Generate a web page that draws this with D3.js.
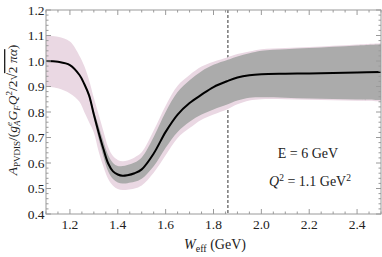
<!DOCTYPE html>
<html>
<head>
<meta charset="utf-8">
<script src="https://cdn.jsdelivr.net/npm/d3@7"></script>
<style>
  body { margin: 0; background: #fff; }
  text { font-family: "Liberation Serif", "DejaVu Serif", serif; fill: #222; }
</style>
</head>
<body>
<div id="vis"></div>
<script>
// W_eff grid (GeV) and the curves
var wEff    = [1.10, 1.15, 1.20, 1.24, 1.26, 1.28, 1.30, 1.32, 1.34, 1.36, 1.38, 1.40, 1.42, 1.44, 1.47, 1.50, 1.55, 1.60, 1.65, 1.70, 1.75, 1.80, 1.86, 1.90, 1.95, 2.00, 2.10, 2.20, 2.30, 2.40, 2.50];
var central = [1.000, 0.997, 0.984, 0.945, 0.910, 0.865, 0.790, 0.720, 0.655, 0.598, 0.567, 0.555, 0.550, 0.552, 0.560, 0.575, 0.637, 0.722, 0.790, 0.835, 0.868, 0.898, 0.922, 0.935, 0.944, 0.948, 0.950, 0.951, 0.953, 0.955, 0.957];
var grayLo  = [1.000, 0.997, 0.984, 0.945, 0.905, 0.855, 0.775, 0.695, 0.625, 0.567, 0.537, 0.524, 0.520, 0.521, 0.526, 0.538, 0.587, 0.660, 0.722, 0.762, 0.790, 0.810, 0.830, 0.845, 0.856, 0.858, 0.856, 0.853, 0.851, 0.849, 0.847];
var grayHi  = [1.000, 0.997, 0.984, 0.945, 0.915, 0.875, 0.805, 0.745, 0.685, 0.630, 0.600, 0.588, 0.588, 0.592, 0.602, 0.622, 0.702, 0.800, 0.878, 0.925, 0.960, 0.985, 1.005, 1.018, 1.030, 1.040, 1.046, 1.051, 1.056, 1.061, 1.066];
var pinkLo  = [0.900, 0.893, 0.873, 0.840, 0.800, 0.760, 0.720, 0.645, 0.585, 0.537, 0.511, 0.498, 0.494, 0.495, 0.500, 0.512, 0.562, 0.630, 0.698, 0.737, 0.770, 0.790, 0.812, 0.830, 0.845, 0.850, 0.850, 0.848, 0.846, 0.844, 0.842];
var pinkHi  = [1.100, 1.095, 1.076, 1.020, 0.980, 0.925, 0.855, 0.790, 0.725, 0.662, 0.627, 0.612, 0.607, 0.610, 0.622, 0.642, 0.727, 0.825, 0.903, 0.945, 0.978, 0.997, 1.015, 1.027, 1.037, 1.046, 1.051, 1.055, 1.060, 1.065, 1.070];

var xTicks = [1.2, 1.4, 1.6, 1.8, 2.0, 2.2, 2.4];
var yTicks = [0.4, 0.5, 0.6, 0.7, 0.8, 0.9, 1.0, 1.1, 1.2];
var threshold = 1.86;

var width = 382, height = 257;
var margin = {top: 10, right: 1, bottom: 43, left: 46};

var svg = d3.select("#vis").append("svg").attr("width", width).attr("height", height);

var x = d3.scaleLinear().domain([1.1, 2.5]).range([margin.left, width - margin.right]);
var y = d3.scaleLinear().domain([0.4, 1.2]).range([height - margin.bottom, margin.top]);

var rows = wEff.map(function (w, i) {
    return {w: w, c: central[i], gl: grayLo[i], gh: grayHi[i], pl: pinkLo[i], ph: pinkHi[i]};
});

svg.append("clipPath").attr("id", "plotClip").append("rect")
    .attr("x", x(1.1)).attr("y", y(1.2))
    .attr("width", x(2.5) - x(1.1)).attr("height", y(0.4) - y(1.2));

var plot = svg.append("g").attr("clip-path", "url(#plotClip)");

//dashed line sits under the bands
plot.append("line")
    .attr("x1", x(threshold)).attr("x2", x(threshold))
    .attr("y1", y(1.2)).attr("y2", y(0.4))
    .attr("stroke", "#808080").attr("stroke-width", 1.6)
    .attr("stroke-dasharray", "3,2");

var curve = d3.curveCatmullRom.alpha(0.5);

plot.append("path").datum(rows)
    .attr("fill", "#ead8e3")
    .attr("d", d3.area().curve(curve).x(d => x(d.w)).y0(d => y(d.pl)).y1(d => y(d.ph)));

plot.append("path").datum(rows)
    .attr("fill", "#ababab")
    .attr("d", d3.area().curve(curve).x(d => x(d.w)).y0(d => y(d.gl)).y1(d => y(d.gh)));

plot.append("path").datum(rows)
    .attr("fill", "none").attr("stroke", "#000").attr("stroke-width", 2)
    .attr("d", d3.line().curve(curve).x(d => x(d.w)).y(d => y(d.c)));

//frame with ticks on all sides
var frameColor = "#9a9a9a";
var x0 = x(1.1), x1 = x(2.5), y0 = y(0.4), y1 = y(1.2);
svg.append("rect")
    .attr("x", x0).attr("y", y1).attr("width", x1 - x0).attr("height", y0 - y1)
    .attr("fill", "none").attr("stroke", frameColor).attr("stroke-width", 1);

var xMinor = d3.range(1.1, 2.5001, 0.05);
var yMinor = d3.range(0.4, 1.2001, 0.02);

function isMajor(v, list) {
    return list.some(t => Math.abs(t - v) < 1e-6);
}

var ticks = svg.append("g").attr("stroke", frameColor).attr("stroke-width", 1);
xMinor.forEach(function (v) {
    var len = isMajor(v, xTicks) ? 5 : 2.5;
    ticks.append("line").attr("x1", x(v)).attr("x2", x(v)).attr("y1", y0).attr("y2", y0 - len);
    ticks.append("line").attr("x1", x(v)).attr("x2", x(v)).attr("y1", y1).attr("y2", y1 + len);
});
yMinor.forEach(function (v) {
    var len = isMajor(v, yTicks) ? 5 : 2.5;
    ticks.append("line").attr("x1", x0).attr("x2", x0 + len).attr("y1", y(v)).attr("y2", y(v));
    ticks.append("line").attr("x1", x1).attr("x2", x1 - len).attr("y1", y(v)).attr("y2", y(v));
});

//tick labels
svg.append("g").selectAll("text").data(xTicks).enter().append("text")
    .attr("x", d => x(d)).attr("y", y0 + 15)
    .attr("text-anchor", "middle").attr("font-size", 13.5)
    .text(d => d.toFixed(1));

svg.append("g").selectAll("text").data(yTicks).enter().append("text")
    .attr("x", x0 - 1.5).attr("y", d => y(d) + 4.5)
    .attr("text-anchor", "end").attr("font-size", 13.5)
    .text(d => d.toFixed(1));

//x axis title
var xt = svg.append("text").attr("x", 215).attr("y", 249)
    .attr("text-anchor", "middle").attr("font-size", 14);
xt.append("tspan").attr("font-style", "italic").text("W");
xt.append("tspan").attr("font-size", 10).attr("dy", 3).text("eff");
xt.append("tspan").attr("dy", -3).text(" (GeV)");

//y axis title
var yt = svg.append("text")
    .attr("transform", "translate(17,110) rotate(-90)")
    .attr("text-anchor", "middle").attr("font-size", 13.5);
yt.append("tspan").attr("font-style", "italic").text("A");
yt.append("tspan").attr("font-size", 9).attr("dy", 3).text("PVDIS");
yt.append("tspan").attr("dy", -3).text("/(");
yt.append("tspan").attr("font-style", "italic").text("g");
yt.append("tspan").attr("font-style", "italic").attr("font-size", 9).attr("dy", -5).text("e");
yt.append("tspan").attr("font-style", "italic").attr("font-size", 9).attr("dx", -4).attr("dy", 8).text("A");
yt.append("tspan").attr("font-style", "italic").attr("dy", -3).text("G");
yt.append("tspan").attr("font-style", "italic").attr("font-size", 9).attr("dy", 3).text("F");
yt.append("tspan").attr("font-style", "italic").attr("dy", -3).text("Q");
yt.append("tspan").attr("font-size", 9).attr("dy", -5).text("2");
yt.append("tspan").attr("dy", 5).text("/2√");
yt.append("tspan").attr("text-decoration", "overline").text("2 ");
yt.append("tspan").attr("font-style", "italic").attr("text-decoration", "overline").text("πα");
yt.append("tspan").text(")");

//annotations
svg.append("text").attr("x", 308).attr("y", 157.5)
    .attr("text-anchor", "middle").attr("font-size", 14)
    .text("E = 6 GeV");

var q = svg.append("text").attr("x", 310).attr("y", 185.5)
    .attr("text-anchor", "middle").attr("font-size", 14);
q.append("tspan").attr("font-style", "italic").text("Q");
q.append("tspan").attr("font-size", 9.5).attr("dy", -5).text("2");
q.append("tspan").attr("dy", 5).text(" = 1.1 GeV");
q.append("tspan").attr("font-size", 9.5).attr("dy", -5).text("2");
</script>
</body>
</html>
